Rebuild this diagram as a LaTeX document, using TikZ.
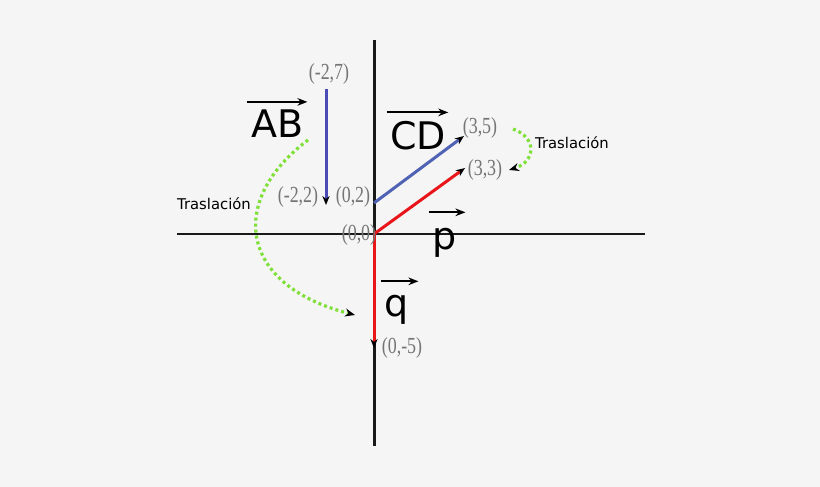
\documentclass[tikz,border=0pt]{standalone}
\usepackage{fontspec}
\setmainfont{DejaVu Sans}
\newfontfamily\puntofont[FakeStretch=0.78]{Liberation Serif}
\usepackage{xcolor}
\definecolor{xred}{HTML}{E8161B}
\definecolor{xblue}{HTML}{4B4BB8}
\definecolor{xsteel}{HTML}{5062B4}
\definecolor{xgreen}{HTML}{7FE03A}
\definecolor{xgray}{HTML}{757575}
\definecolor{xbg}{HTML}{F5F5F5}
\usetikzlibrary{arrows.meta}
\tikzset{
  %% Styles %%
  eje/.style = {line width=#1, draw=black!90},
  vector/.style = {draw=#1, line width=1.5pt, -{Stealth[length=4.5pt, width=3.6pt, color=black]}},
  traslacion/.style = {draw=xgreen, line width=1.6pt, dash pattern=on 1.5pt off 1.5pt, -{Stealth[length=5pt, width=4pt, color=black]}},
  punto/.style = {text=xgray, font=\puntofont\fontsize{11.5}{12}\selectfont, inner sep=0pt},
  nombre/.style = {font=\fontsize{19}{21}\selectfont, inner sep=0pt, anchor=base},
  flecha/.style = {line width=1pt, -{Stealth[length=5pt, width=3.8pt]}},
  nota/.style = {font=\fontsize{7.4}{8}\selectfont, inner sep=0pt},
}
\begin{document}
\begin{tikzpicture}[x=0.5pt, y=-0.5pt]
  \fill[xbg] (0,0) rectangle (820,487);
  \useasboundingbox (0,0) rectangle (820,487);

  % Ejes
  \draw[eje=0.8pt] (177,234) -- (645,234);
  \draw[eje=1.5pt] (374,40) -- (374,446);

  % Puntos
  \coordinate (O) at (374,234);
  \coordinate (P) at (465,168);
  \coordinate (Q) at (374,348);
  \coordinate (C) at (374,203);
  \coordinate (D) at (464,136);
  \coordinate (A) at (326,89);
  \coordinate (B) at (326,205);

  % Vectores
  \draw[vector={xblue}] (A) -- (B);
  \draw[vector={xsteel}] (C) -- (D);
  \draw[vector={xred}] (O) -- (P);
  \draw[vector={xred}] (O) -- (Q);

  % Coordenadas
  \node[punto] (lA) at (329,74) {(-2,7)};
  \node[punto] (lB) at (298,197) {(-2,2)};
  \node[punto] (lC) at (353,197) {(0,2)};
  \node[punto] (lO) at (359,235) {(0,0)};
  \node[punto] (lD) at (480,128) {(3,5)};
  \node[punto] (lP) at (485,170) {(3,3)};
  \node[punto] (lQ) at (402,348) {(0,-5)};

  % Nombres
  \node[nombre] (AB) at (278,137) {AB};
  \node[nombre] (CD) at (418,149) {CD};
  \node[nombre] (p) at (445,249) {p};
  \node[nombre] (q) at (397,316) {q};
  \draw[flecha] ([shift={(-5,-7)}]AB.north west) -- ([shift={(3,-7)}]AB.north east);
  \draw[flecha] ([shift={(-3,-8)}]CD.north west) -- ([shift={(2,-8)}]CD.north east);
  \draw[flecha] ([shift={(-4,-15)}]p.north west) -- ([shift={(8,-15)}]p.north east);
  \draw[flecha] ([shift={(-4,-13)}]q.north west) -- ([shift={(9,-13)}]q.north east);

  % Traslaciones
  \coordinate (s1) at (308,140);
  \coordinate (e1) at (355,315);
  \coordinate (s2) at (513,129);
  \coordinate (e2) at (509,170);
  \draw[traslacion] (s1) .. controls (228,200) and (238,285) .. (e1);
  \draw[traslacion] (s2) .. controls (538,138) and (535,162) .. (e2);
  \node[nota] (t1) at (214,204) {Traslación};
  \node[nota] (t2) at (572,143) {Traslación};
\end{tikzpicture}
\end{document}
